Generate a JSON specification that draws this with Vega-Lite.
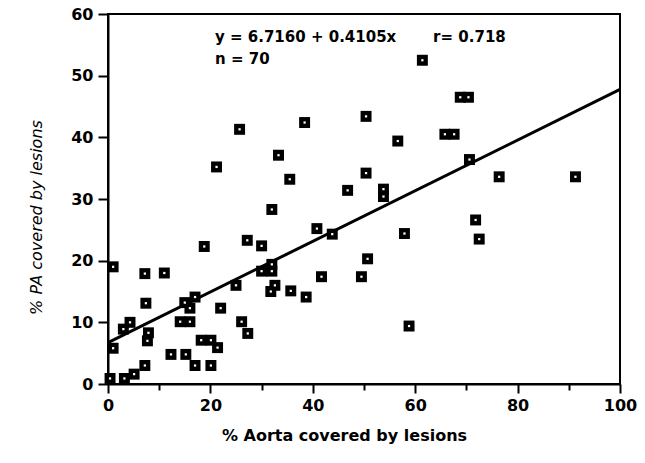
{
  "$schema": "https://vega.github.io/schema/vega-lite/v6.json",
  "width": 512,
  "height": 370,
  "autosize": "none",
  "padding": {"left": 108, "top": 14, "right": 25, "bottom": 79},
  "background": "white",
  "config": {
    "view": {"stroke": "black", "strokeWidth": 2},
    "axis": {
      "grid": false,
      "domainColor": "black",
      "domainWidth": 2,
      "tickColor": "black",
      "tickWidth": 2,
      "labelColor": "black",
      "titleColor": "black",
      "labelFont": "DejaVu Sans",
      "labelFontWeight": "bold",
      "labelFontSize": 16,
      "labelFlush": false,
      "labelOverlap": false
    }
  },
  "datasets": {
    "points": [
      {"aorta": 1.0, "pa": 19.0}, {"aorta": 7.2, "pa": 17.9}, {"aorta": 11.0, "pa": 18.0},
      {"aorta": 7.4, "pa": 13.1}, {"aorta": 15.0, "pa": 13.2}, {"aorta": 16.0, "pa": 12.3},
      {"aorta": 17.0, "pa": 14.1}, {"aorta": 14.1, "pa": 10.1}, {"aorta": 16.0, "pa": 10.1},
      {"aorta": 22.0, "pa": 12.3}, {"aorta": 4.3, "pa": 10.0}, {"aorta": 3.0, "pa": 8.9},
      {"aorta": 1.0, "pa": 5.8}, {"aorta": 7.9, "pa": 8.3}, {"aorta": 7.7, "pa": 7.0},
      {"aorta": 18.2, "pa": 7.1}, {"aorta": 20.1, "pa": 7.1}, {"aorta": 21.4, "pa": 5.9},
      {"aorta": 12.3, "pa": 4.8}, {"aorta": 15.2, "pa": 4.8}, {"aorta": 17.0, "pa": 3.0},
      {"aorta": 20.1, "pa": 3.0}, {"aorta": 7.2, "pa": 3.0}, {"aorta": 5.1, "pa": 1.6},
      {"aorta": 0.4, "pa": 0.9}, {"aorta": 3.2, "pa": 0.9}, {"aorta": 30.0, "pa": 18.3},
      {"aorta": 32.0, "pa": 18.3}, {"aorta": 32.0, "pa": 19.4}, {"aorta": 25.0, "pa": 16.0},
      {"aorta": 32.6, "pa": 16.0}, {"aorta": 31.8, "pa": 15.0}, {"aorta": 35.7, "pa": 15.1},
      {"aorta": 38.7, "pa": 14.1}, {"aorta": 41.7, "pa": 17.4}, {"aorta": 49.5, "pa": 17.4},
      {"aorta": 26.1, "pa": 10.1}, {"aorta": 27.3, "pa": 8.2}, {"aorta": 32.0, "pa": 28.3},
      {"aorta": 18.8, "pa": 22.3}, {"aorta": 27.2, "pa": 23.3}, {"aorta": 30.0, "pa": 22.4},
      {"aorta": 40.8, "pa": 25.2}, {"aorta": 43.8, "pa": 24.3}, {"aorta": 25.7, "pa": 41.3},
      {"aorta": 38.4, "pa": 42.4}, {"aorta": 33.3, "pa": 37.1}, {"aorta": 21.2, "pa": 35.2},
      {"aorta": 35.5, "pa": 33.2}, {"aorta": 46.8, "pa": 31.4}, {"aorta": 50.4, "pa": 43.4},
      {"aorta": 50.4, "pa": 34.2}, {"aorta": 61.4, "pa": 52.5}, {"aorta": 68.8, "pa": 46.5},
      {"aorta": 70.4, "pa": 46.5}, {"aorta": 65.8, "pa": 40.5}, {"aorta": 67.6, "pa": 40.5},
      {"aorta": 56.6, "pa": 39.4}, {"aorta": 70.6, "pa": 36.4}, {"aorta": 53.8, "pa": 31.6},
      {"aorta": 53.8, "pa": 30.4}, {"aorta": 76.4, "pa": 33.6}, {"aorta": 91.3, "pa": 33.6},
      {"aorta": 71.8, "pa": 26.6}, {"aorta": 72.5, "pa": 23.5}, {"aorta": 57.9, "pa": 24.4},
      {"aorta": 50.7, "pa": 20.3}, {"aorta": 58.8, "pa": 9.4}
    ],
    "fit": [{"aorta": 0, "pa": 6.716}, {"aorta": 100, "pa": 47.766}]
  },
  "layer": [
    {
      "data": {"name": "fit"},
      "mark": {"type": "line", "color": "black", "strokeWidth": 3},
      "encoding": {
        "x": {
          "field": "aorta", "type": "quantitative",
          "scale": {"domain": [0, 100], "nice": false, "zero": false},
          "axis": {
            "values": [0, 10, 20, 30, 40, 50, 60, 70, 80, 90, 100],
            "labelExpr": "datum.value % 20 === 0 ? datum.label : ''",
            "tickSize": {"condition": {"test": "datum.value % 20 === 0", "value": 9}, "value": 6},
            "labelPadding": 4,
            "title": "% Aorta covered by lesions",
            "titleFont": "DejaVu Sans",
            "titleFontSize": 16,
            "titleFontWeight": "bold",
            "titleX": 236,
            "titleY": 51,
            "titleAlign": "center",
            "titleBaseline": "middle"
          }
        },
        "y": {
          "field": "pa", "type": "quantitative",
          "scale": {"domain": [0, 60], "nice": false, "zero": false},
          "axis": {
            "values": [0, 5, 10, 15, 20, 25, 30, 35, 40, 45, 50, 55, 60],
            "labelExpr": "datum.value % 10 === 0 ? datum.label : ''",
            "tickSize": {"condition": {"test": "datum.value % 10 === 0", "value": 10}, "value": 6},
            "labelPadding": 5,
            "title": "% PA covered by lesions",
            "titleFont": "DejaVu Sans",
            "titleFontSize": 16,
            "titleFontWeight": "normal",
            "titleFontStyle": "italic",
            "titleAngle": -90,
            "titleX": -72,
            "titleY": 203,
            "titleAlign": "center",
            "titleBaseline": "middle"
          }
        }
      }
    },
    {
      "data": {"name": "points"},
      "mark": {"type": "point", "shape": "square", "filled": true, "color": "black", "size": 120, "opacity": 1},
      "encoding": {
        "x": {"field": "aorta", "type": "quantitative"},
        "y": {"field": "pa", "type": "quantitative"}
      }
    },
    {
      "data": {"name": "points"},
      "mark": {"type": "point", "shape": "square", "filled": true, "color": "white", "size": 5, "opacity": 1},
      "encoding": {
        "x": {"field": "aorta", "type": "quantitative"},
        "y": {"field": "pa", "type": "quantitative"}
      }
    },
    {
      "data": {"values": [{"t": "y = 6.7160 + 0.4105x"}]},
      "mark": {"type": "text", "align": "left", "baseline": "middle", "font": "DejaVu Sans", "fontWeight": "bold", "fontSize": 15, "color": "black"},
      "encoding": {
        "x": {"datum": 20.9, "type": "quantitative"},
        "y": {"datum": 56.3, "type": "quantitative"},
        "text": {"field": "t"}
      }
    },
    {
      "data": {"values": [{"t": "r= 0.718"}]},
      "mark": {"type": "text", "align": "left", "baseline": "middle", "font": "DejaVu Sans", "fontWeight": "bold", "fontSize": 15, "color": "black"},
      "encoding": {
        "x": {"datum": 63.5, "type": "quantitative"},
        "y": {"datum": 56.3, "type": "quantitative"},
        "text": {"field": "t"}
      }
    },
    {
      "data": {"values": [{"t": "n = 70"}]},
      "mark": {"type": "text", "align": "left", "baseline": "middle", "font": "DejaVu Sans", "fontWeight": "bold", "fontSize": 15, "color": "black"},
      "encoding": {
        "x": {"datum": 20.9, "type": "quantitative"},
        "y": {"datum": 52.7, "type": "quantitative"},
        "text": {"field": "t"}
      }
    }
  ]
}
